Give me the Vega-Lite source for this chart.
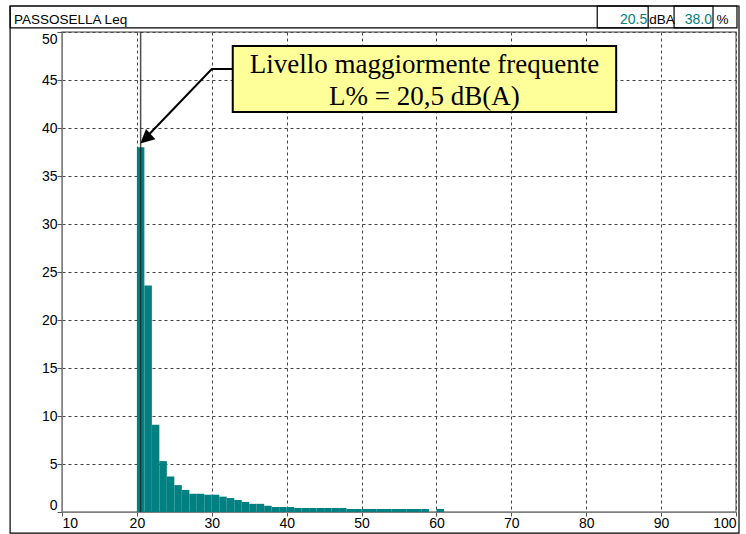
{
  "$schema": "https://vega.github.io/schema/vega-lite/v6.json",
  "width": 674,
  "height": 480,
  "autosize": {"type": "none"},
  "padding": {"left": 62, "top": 32, "right": 10, "bottom": 22},
  "background": "white",
  "config": {
    "font": "Liberation Sans",
    "view": {"stroke": "#808080", "strokeWidth": 1.5},
    "axis": {
      "labelFont": "Liberation Sans",
      "labelFontSize": 14,
      "labelColor": "black",
      "domainColor": "#808080",
      "tickColor": "#555",
      "gridColor": "#444",
      "gridDash": [3, 3],
      "gridOpacity": 1,
      "gridWidth": 1
    }
  },
  "layer": [
    {
      "data": {"values": [
        {"lo": 20, "hi": 21, "pct": 38.0},
        {"lo": 21, "hi": 22, "pct": 23.6},
        {"lo": 22, "hi": 23, "pct": 9.1},
        {"lo": 23, "hi": 24, "pct": 5.3},
        {"lo": 24, "hi": 25, "pct": 3.7},
        {"lo": 25, "hi": 26, "pct": 2.8},
        {"lo": 26, "hi": 27, "pct": 2.3},
        {"lo": 27, "hi": 28, "pct": 1.9},
        {"lo": 28, "hi": 29, "pct": 1.9},
        {"lo": 29, "hi": 30, "pct": 1.8},
        {"lo": 30, "hi": 31, "pct": 1.8},
        {"lo": 31, "hi": 32, "pct": 1.6},
        {"lo": 32, "hi": 33, "pct": 1.45},
        {"lo": 33, "hi": 34, "pct": 1.25},
        {"lo": 34, "hi": 35, "pct": 1.05},
        {"lo": 35, "hi": 36, "pct": 0.85},
        {"lo": 36, "hi": 37, "pct": 0.85},
        {"lo": 37, "hi": 38, "pct": 0.65},
        {"lo": 38, "hi": 39, "pct": 0.52},
        {"lo": 39, "hi": 40, "pct": 0.52},
        {"lo": 40, "hi": 41, "pct": 0.52},
        {"lo": 41, "hi": 42, "pct": 0.42},
        {"lo": 42, "hi": 43, "pct": 0.42},
        {"lo": 43, "hi": 44, "pct": 0.42},
        {"lo": 44, "hi": 45, "pct": 0.42},
        {"lo": 45, "hi": 46, "pct": 0.42},
        {"lo": 46, "hi": 47, "pct": 0.42},
        {"lo": 47, "hi": 48, "pct": 0.42},
        {"lo": 48, "hi": 49, "pct": 0.31},
        {"lo": 49, "hi": 50, "pct": 0.31},
        {"lo": 50, "hi": 51, "pct": 0.31},
        {"lo": 51, "hi": 52, "pct": 0.31},
        {"lo": 52, "hi": 53, "pct": 0.31},
        {"lo": 53, "hi": 54, "pct": 0.31},
        {"lo": 54, "hi": 55, "pct": 0.31},
        {"lo": 55, "hi": 56, "pct": 0.31},
        {"lo": 56, "hi": 57, "pct": 0.31},
        {"lo": 57, "hi": 58, "pct": 0.31},
        {"lo": 58, "hi": 59, "pct": 0.31},
        {"lo": 60, "hi": 61, "pct": 0.31}
      ]},
      "mark": {"type": "rect", "color": "#008080"},
      "encoding": {
        "x": {"field": "lo", "type": "quantitative", "title": null,
          "scale": {"domain": [10, 100], "nice": false, "zero": false},
          "axis": {"title": null, "values": [10, 20, 30, 40, 50, 60, 70, 80, 90, 100], "labelFlush": true, "labelFontSize": 14, "labelFont": "Liberation Sans", "tickSize": 4, "labelPadding": 0, "grid": true}},
        "x2": {"field": "hi"},
        "y": {"field": "pct", "type": "quantitative", "title": null,
          "scale": {"domain": [0, 50], "nice": false},
          "axis": {"title": null, "values": [0, 5, 10, 15, 20, 25, 30, 35, 40, 45, 50], "labelFlush": true, "labelFontSize": 14, "labelFont": "Liberation Sans", "tickSize": 5, "labelPadding": 0, "grid": true}},
        "y2": {"datum": 0}
      }
    },
    {
      "data": {"values": [{"x1": 3.07, "x2": 100.4, "y1": -2.2, "y2": 52.71}]},
      "mark": {"type": "rect", "fill": null, "stroke": "black", "strokeWidth": 1.2},
      "encoding": {
        "x": {"field": "x1", "type": "quantitative", "title": null},
        "x2": {"field": "x2"},
        "y": {"field": "y1", "type": "quantitative", "title": null},
        "y2": {"field": "y2"}
      }
    },
    {
      "data": {"values": [{"x1": 3.07, "x2": 100.13, "y1": 50.42, "y2": 52.71}, {"x1": 81.47, "x2": 88.27, "y1": 50.42, "y2": 52.71}, {"x1": 91.73, "x2": 96.93, "y1": 50.42, "y2": 52.71}]},
      "mark": {"type": "rect", "fill": null, "stroke": "black", "strokeWidth": 1.2},
      "encoding": {
        "x": {"field": "x1", "type": "quantitative", "title": null},
        "x2": {"field": "x2"},
        "y": {"field": "y1", "type": "quantitative", "title": null},
        "y2": {"field": "y2"}
      }
    },
    {
      "data": {"values": [{"x": 3.6, "y": 50.85, "t": "PASSOSELLA  Leq"}, {"x": 88.4, "y": 50.85, "t": "dBA"}, {"x": 97.4, "y": 50.85, "t": "%"}]},
      "mark": {"type": "text", "align": "left", "baseline": "alphabetic", "fontSize": 13.5, "font": "Liberation Sans", "color": "black"},
      "encoding": {
        "x": {"field": "x", "type": "quantitative", "title": null},
        "y": {"field": "y", "type": "quantitative", "title": null},
        "text": {"field": "t"}
      }
    },
    {
      "data": {"values": [{"x": 88.15, "y": 50.85, "t": "20.5"}, {"x": 96.8, "y": 50.85, "t": "38.0"}]},
      "mark": {"type": "text", "align": "right", "baseline": "alphabetic", "fontSize": 14, "font": "Liberation Sans", "color": "#008080"},
      "encoding": {
        "x": {"field": "x", "type": "quantitative", "title": null},
        "y": {"field": "y", "type": "quantitative", "title": null},
        "text": {"field": "t"}
      }
    },
    {
      "data": {"values": [{"x": 20.5}]},
      "mark": {"type": "rule", "color": "#222", "strokeWidth": 1.5, "opacity": 0.8},
      "encoding": {"x": {"field": "x", "type": "quantitative", "title": null}}
    },
    {
      "data": {"values": [{"x1": 32.8, "x2": 84.0, "y1": 41.67, "y2": 48.54}]},
      "mark": {"type": "rect", "fill": "#ffff99", "stroke": "black", "strokeWidth": 2},
      "encoding": {
        "x": {"field": "x1", "type": "quantitative", "title": null},
        "x2": {"field": "x2"},
        "y": {"field": "y1", "type": "quantitative", "title": null},
        "y2": {"field": "y2"}
      }
    },
    {
      "data": {"values": [{"x": 58.4, "y": 45.7, "t": "Livello maggiormente frequente"}, {"x": 58.4, "y": 42.4, "t": "L% = 20,5 dB(A)"}]},
      "mark": {"type": "text", "align": "center", "baseline": "alphabetic", "fontSize": 27, "font": "Liberation Serif", "color": "black"},
      "encoding": {
        "x": {"field": "x", "type": "quantitative", "title": null},
        "y": {"field": "y", "type": "quantitative", "title": null},
        "text": {"field": "t"}
      }
    },
    {
      "data": {"values": [{"x": 32.8, "y": 46.15, "o": 0}, {"x": 30.0, "y": 46.15, "o": 1}, {"x": 21.1, "y": 38.9, "o": 2}]},
      "mark": {"type": "line", "color": "black", "strokeWidth": 2},
      "encoding": {
        "x": {"field": "x", "type": "quantitative", "title": null},
        "y": {"field": "y", "type": "quantitative", "title": null},
        "order": {"field": "o", "type": "quantitative"}
      }
    },
    {
      "data": {"values": [{"x": 21.15, "y": 38.87}]},
      "mark": {"type": "point", "shape": "M0,-1L1,1L-1,1Z", "size": 196, "filled": true, "color": "black", "opacity": 1, "angle": 228},
      "encoding": {
        "x": {"field": "x", "type": "quantitative", "title": null},
        "y": {"field": "y", "type": "quantitative", "title": null}
      }
    }
  ]
}
